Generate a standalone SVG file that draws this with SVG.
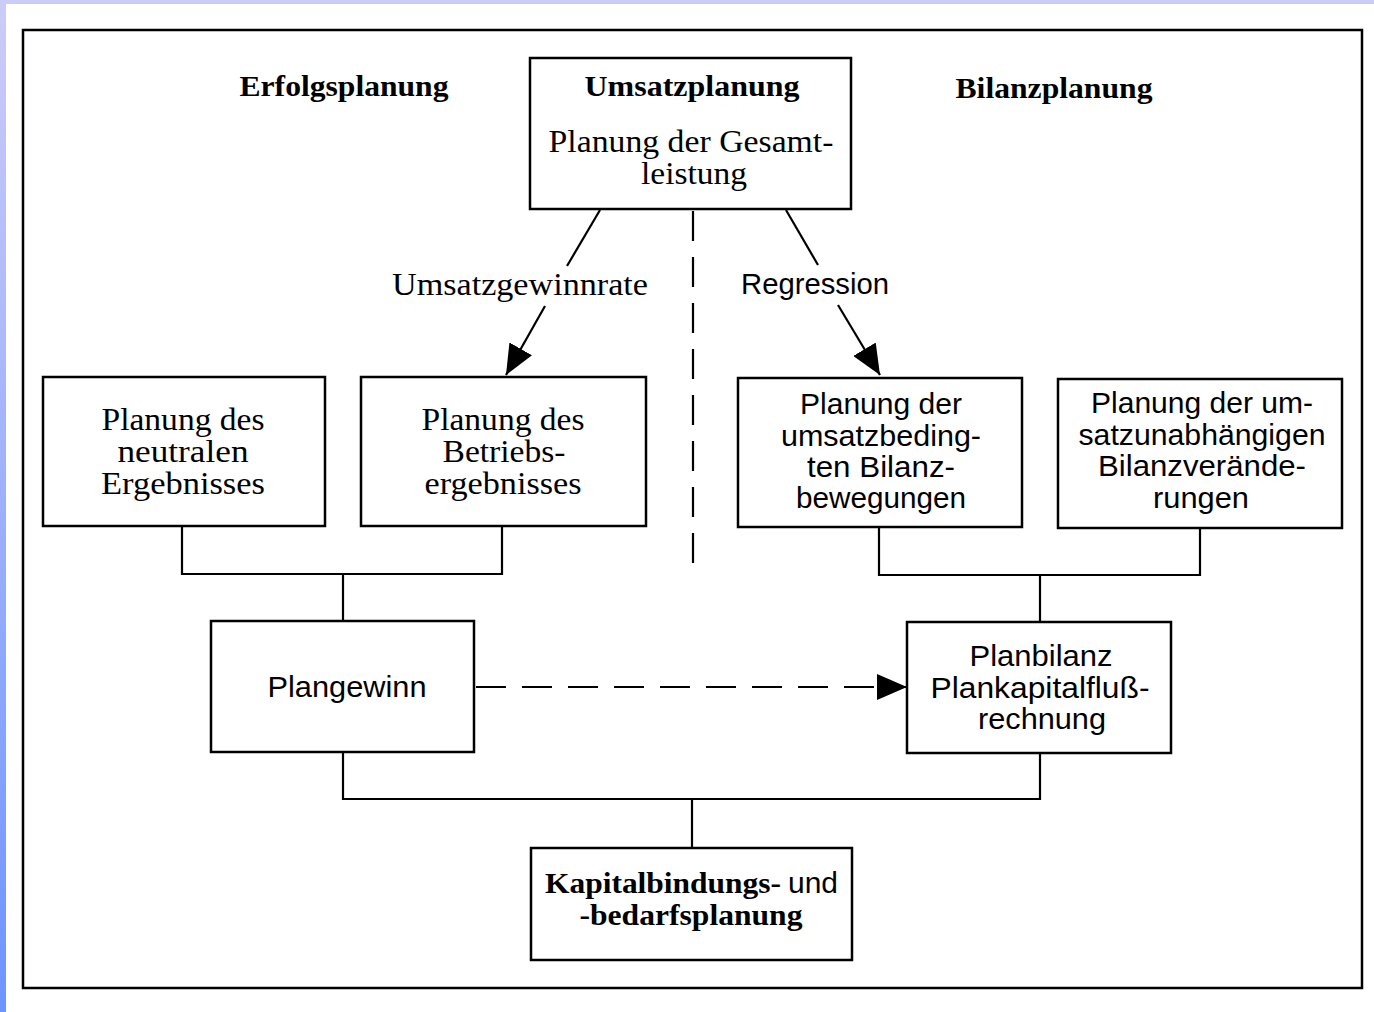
<svg xmlns="http://www.w3.org/2000/svg" width="1374" height="1012" viewBox="0 0 1374 1012">
<defs>
<linearGradient id="lg" x1="0" y1="0" x2="0" y2="1">
<stop offset="0" stop-color="#ccccf8"/>
<stop offset="1" stop-color="#6e94ff"/>
</linearGradient>
<marker id="ah" viewBox="0 0 30 26" refX="30" refY="13" markerWidth="30" markerHeight="26" markerUnits="userSpaceOnUse" orient="auto">
<path d="M0,0 L30,13 L0,26 Z" fill="#000"/>
</marker>
<style>
.box{fill:#fff;stroke:#000;stroke-width:2.5}
.ln{fill:none;stroke:#000;stroke-width:2.2}
.dash{fill:none;stroke:#000;stroke-width:2.2;stroke-dasharray:30 16}
.sr{font-family:"Liberation Serif","DejaVu Serif",serif;font-size:31px;fill:#000;text-anchor:middle}
.sb{font-family:"Liberation Serif","DejaVu Serif",serif;font-size:30px;font-weight:bold;fill:#000;text-anchor:middle}
.ss{font-family:"Liberation Sans","DejaVu Sans",sans-serif;font-size:29px;fill:#000;text-anchor:middle}
</style>
</defs>
<rect x="0" y="0" width="1374" height="1012" fill="#fff"/>
<rect x="0" y="0" width="1374" height="4" fill="#ccccf8"/>
<rect x="0" y="0" width="6" height="1012" fill="url(#lg)"/>
<rect x="23" y="30" width="1339" height="958" fill="none" stroke="#000" stroke-width="2.5"/>

<g id="headers">
<text class="sb" x="344" y="96" textLength="209" lengthAdjust="spacingAndGlyphs">Erfolgsplanung</text>
<text class="sb" x="1054" y="98" textLength="197" lengthAdjust="spacingAndGlyphs">Bilanzplanung</text>
</g>

<g id="connectors">
<line class="ln" x1="600" y1="210" x2="567" y2="266"/>
<line class="ln" x1="545" y1="306" x2="506" y2="375" marker-end="url(#ah)"/>
<line class="ln" x1="786" y1="210" x2="818" y2="265"/>
<line class="ln" x1="838" y1="305" x2="880" y2="375" marker-end="url(#ah)"/>
<text class="sr" x="520" y="295" textLength="256" lengthAdjust="spacingAndGlyphs">Umsatzgewinnrate</text>
<text class="ss" x="815" y="294" textLength="148" lengthAdjust="spacingAndGlyphs">Regression</text>
<line class="dash" x1="693" y1="211" x2="693" y2="572"/>
<polyline class="ln" points="182,527 182,574 502,574 502,527"/>
<line class="ln" x1="343" y1="574" x2="343" y2="621"/>
<polyline class="ln" points="879,528 879,575 1200,575 1200,529"/>
<line class="ln" x1="1040" y1="575" x2="1040" y2="622"/>
<polyline class="ln" points="343,753 343,799 1040,799 1040,754"/>
<line class="ln" x1="692" y1="799" x2="692" y2="848"/>
<line class="dash" x1="476" y1="687" x2="907" y2="687" stroke-dasharray="28 17" marker-end="url(#ah)"/>
</g>

<g id="umsatzplanung">
<rect class="box" x="530" y="58" width="321" height="151"/>
<text class="sb" x="692" y="96" textLength="215" lengthAdjust="spacingAndGlyphs">Umsatzplanung</text>
<text class="sr" x="691" y="152" textLength="285" lengthAdjust="spacingAndGlyphs">Planung der Gesamt-</text>
<text class="sr" x="694" y="184" textLength="106" lengthAdjust="spacingAndGlyphs">leistung</text>
</g>

<g id="neutral">
<rect class="box" x="43" y="377" width="282" height="149"/>
<text class="sr" x="183" y="430" textLength="163" lengthAdjust="spacingAndGlyphs">Planung des</text>
<text class="sr" x="183" y="462" textLength="131" lengthAdjust="spacingAndGlyphs">neutralen</text>
<text class="sr" x="183" y="494" textLength="164" lengthAdjust="spacingAndGlyphs">Ergebnisses</text>
</g>

<g id="betrieb">
<rect class="box" x="361" y="377" width="285" height="149"/>
<text class="sr" x="503" y="430" textLength="163" lengthAdjust="spacingAndGlyphs">Planung des</text>
<text class="sr" x="504" y="462" textLength="123" lengthAdjust="spacingAndGlyphs">Betriebs-</text>
<text class="sr" x="503" y="494" textLength="157" lengthAdjust="spacingAndGlyphs">ergebnisses</text>
</g>

<g id="umsatzbedingt">
<rect class="box" x="738" y="378" width="284" height="149"/>
<text class="ss" x="881" y="414" textLength="162" lengthAdjust="spacingAndGlyphs">Planung der</text>
<text class="ss" x="881" y="446" textLength="200" lengthAdjust="spacingAndGlyphs">umsatzbeding-</text>
<text class="ss" x="881" y="477" textLength="148" lengthAdjust="spacingAndGlyphs">ten Bilanz-</text>
<text class="ss" x="881" y="508" textLength="170" lengthAdjust="spacingAndGlyphs">bewegungen</text>
</g>

<g id="umsatzunabhaengig">
<rect class="box" x="1058" y="379" width="284" height="149"/>
<text class="ss" x="1202" y="413" textLength="222" lengthAdjust="spacingAndGlyphs">Planung der um-</text>
<text class="ss" x="1202" y="445" textLength="247" lengthAdjust="spacingAndGlyphs">satzunabhängigen</text>
<text class="ss" x="1202" y="476" textLength="208" lengthAdjust="spacingAndGlyphs">Bilanzverände-</text>
<text class="ss" x="1201" y="508" textLength="96" lengthAdjust="spacingAndGlyphs">rungen</text>
</g>

<g id="plangewinn">
<rect class="box" x="211" y="621" width="263" height="131"/>
<text class="ss" x="347" y="697" textLength="159" lengthAdjust="spacingAndGlyphs">Plangewinn</text>
</g>

<g id="planbilanz">
<rect class="box" x="907" y="622" width="264" height="131"/>
<text class="ss" x="1041" y="666" textLength="143" lengthAdjust="spacingAndGlyphs">Planbilanz</text>
<text class="ss" x="1040" y="698" textLength="219" lengthAdjust="spacingAndGlyphs">Plankapitalfluß-</text>
<text class="ss" x="1042" y="729" textLength="128" lengthAdjust="spacingAndGlyphs">rechnung</text>
</g>

<g id="kapitalbindung">
<rect class="box" x="531" y="848" width="321" height="112"/>
<text class="sb" x="545" y="893" text-anchor="start" style="text-anchor:start" textLength="236" lengthAdjust="spacingAndGlyphs">Kapitalbindungs-</text>
<text class="ss" x="788" y="893" style="text-anchor:start" textLength="50" lengthAdjust="spacingAndGlyphs">und</text>
<text class="sb" x="691" y="925" textLength="223" lengthAdjust="spacingAndGlyphs">-bedarfsplanung</text>
</g>
</svg>
